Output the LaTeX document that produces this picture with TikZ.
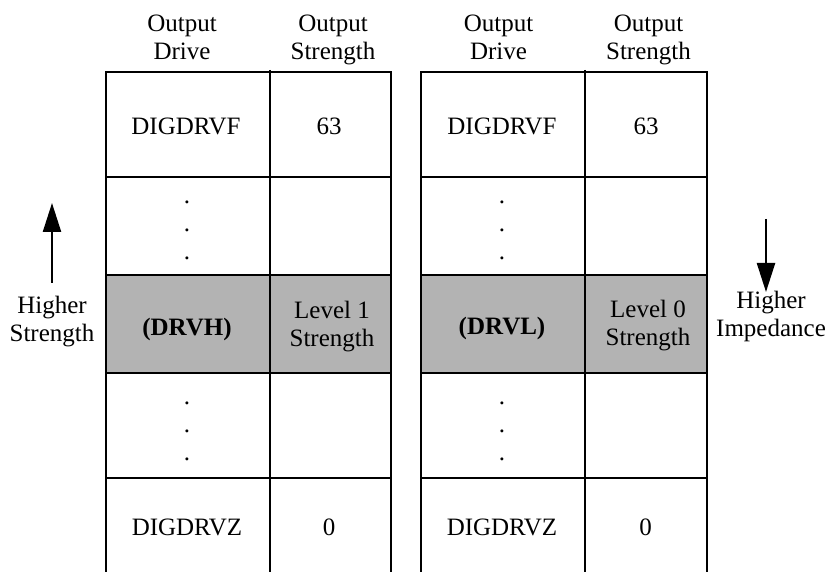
\documentclass[tikz,border=0pt]{standalone}
\usepackage{fontspec}
\setmainfont{Liberation Serif}
\usetikzlibrary{arrows.meta}
\definecolor{cellgray}{RGB}{179,179,179}
\begin{document}
\begin{tikzpicture}[x=1pt,y=-1pt,
  grid/.style={line width=2.7pt,black},
  txt/.style={inner sep=0pt,align=center,font=\fontsize{25}{28}\selectfont},
  dots/.style={txt,anchor=north},
  bigarrow/.style={line width=2.3pt,-{Triangle[length=29pt,width=18pt]}}]
\useasboundingbox (0,0) rectangle (833,572);
% gray rows
\fill[cellgray] (106,275) rectangle (391,373);
\fill[cellgray] (421,275) rectangle (707,373);
% left table
\draw[grid,line join=miter] (106,572) -- (106,72) -- (391,72) -- (391,572);
\draw[grid] (270,70) -- (270,572);
\foreach \y in {177,275,373,478} \draw[grid] (106,\y) -- (391,\y);
% right table
\draw[grid,line join=miter] (421,572) -- (421,72) -- (707,72) -- (707,572);
\draw[grid] (585,70) -- (585,572);
\foreach \y in {177,275,373,478} \draw[grid] (421,\y) -- (707,\y);
% headers
\node[txt] (hd1) at (182,37) {Output\\Drive};
\node[txt] (hs1) at (333,39.6) {Output\\Strength};
\node[txt] (hd2) at (498.5,37) {Output\\Drive};
\node[txt] (hs2) at (648.5,39.6) {Output\\Strength};
% left table cells
\node[txt] (f1) at (186,126.7) {DIGDRVF};
\node[txt] (n1) at (329,126.7) {63};
\node[dots] (d1a) at (187,200.5) {.\\.\\.};
\node[txt] (h1) at (187,329) {\textbf{(DRVH)}};
\node[txt] (l1) at (332,327) {Level 1\\Strength};
\node[dots] (d1b) at (187,402) {.\\.\\.};
\node[txt] (z1) at (187,527.7) {DIGDRVZ};
\node[txt] (o1) at (329,527.7) {0};
% right table cells
\node[txt] (f2) at (502,126.7) {DIGDRVF};
\node[txt] (n2) at (646,126.7) {63};
\node[dots] (d2a) at (502,200.5) {.\\.\\.};
\node[txt] (h2) at (502,328) {\textbf{(DRVL)}};
\node[txt] (l2) at (648,326) {Level 0\\Strength};
\node[dots] (d2b) at (502,402) {.\\.\\.};
\node[txt] (z2) at (502,527.7) {DIGDRVZ};
\node[txt] (o2) at (645.5,527.7) {0};
% side labels and arrows
\node[txt] (hs) at (52,321.7) {Higher\\Strength};
\node[txt] (hi) at (771,316.6) {Higher\\Impedance};
\coordinate (a1s) at (52,283);
\coordinate (a1e) at (52,203);
\coordinate (a2s) at (766,219);
\coordinate (a2e) at (766,292);
\draw[bigarrow] (a1s) -- (a1e);
\draw[bigarrow] (a2s) -- (a2e);
\end{tikzpicture}
\end{document}
